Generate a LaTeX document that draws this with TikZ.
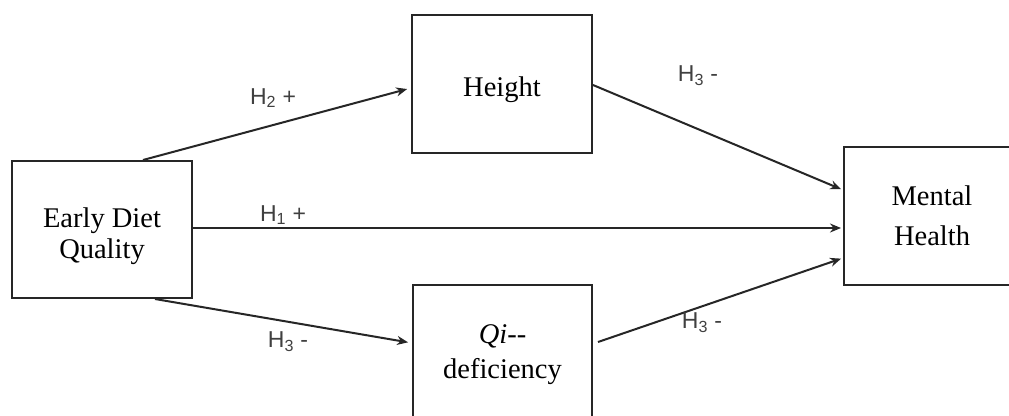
\documentclass[tikz,border=0pt]{standalone}
\usepackage{fontspec}
\setmainfont{Liberation Serif}
\newfontfamily\labfont{Liberation Sans}
\usetikzlibrary{arrows.meta}
\begin{document}
\begin{tikzpicture}[x=1pt,y=-1pt,
  box/.style={draw=black!85,line width=2pt,minimum width=180pt,align=center,font=\fontsize{28.5}{32}\selectfont,inner sep=0pt},
  conn/.style={draw=black!85,line width=2pt,-{Stealth[length=11pt,width=9pt]}},
  lab/.style={font=\labfont\fontsize{23}{26}\selectfont,text=black!75,inner sep=0pt}]
\useasboundingbox (0,0) rectangle (1009,415);
\clip (0,0) rectangle (1009,415);
\fill[white] (0,0) rectangle (1009,415);
\node[box,minimum height=137pt,font=\fontsize{28.5}{31}\selectfont,text height=57pt,text depth=0pt] (early) at (102,229.5) {Early Diet\\Quality};
\node[box,minimum height=138pt,text height=25.7pt,text depth=0pt] (height) at (502,84) {Height};
\node[box,minimum height=140pt,minimum width=179pt,font=\fontsize{28.5}{35}\selectfont] (qi) at (502.5,355) {\textit{Qi}-{}-\\deficiency};
\node[box,minimum height=138pt,minimum width=176pt,font=\fontsize{28.5}{40}\selectfont] (mental) at (932,216) {Mental\\Health};
\draw[conn,shorten >=4pt] ([xshift=41pt]early.north) -- ([yshift=-4pt]height.west);
\draw[conn,shorten >=2pt] ([yshift=-1pt]height.east) -- ([yshift=26pt]mental.west);
\draw[conn,shorten >=2pt] ([yshift=1.5pt]early.east) -- ([yshift=1.5pt]early.east -| mental.west);
\draw[conn,shorten >=4pt] ([xshift=53pt]early.south) -- ([yshift=12pt]qi.west);
\draw[conn,shorten >=2pt] ([xshift=5pt,yshift=13pt]qi.east) -- ([yshift=-42pt]mental.west);
\node[lab] (l2) at (273,98) {H\textsubscript{2} +};
\node[lab] (l3a) at (698,76) {H\textsubscript{3} -};
\node[lab] (l1) at (283,215) {H\textsubscript{1} +};
\node[lab] (l3b) at (288,342) {H\textsubscript{3} -};
\node[lab] (l3c) at (702,323) {H\textsubscript{3} -};
\end{tikzpicture}
\end{document}
